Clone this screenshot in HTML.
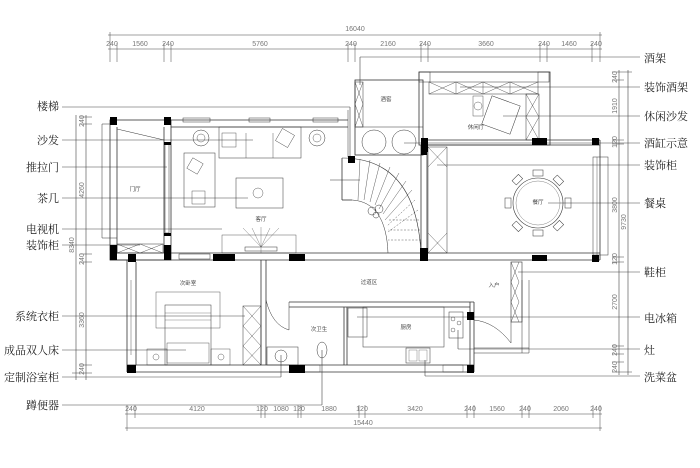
<!DOCTYPE html>
<html><head><meta charset="utf-8"><style>
html,body{margin:0;padding:0;background:#fff;}
svg{display:block;}
.l{font-family:"Liberation Serif","Noto Serif CJK SC",serif;font-size:11px;fill:#222;}
.d{font-family:"Liberation Sans",sans-serif;font-size:7px;fill:#777;}
.s{font-family:"Liberation Sans","Noto Sans CJK SC",sans-serif;font-size:5.5px;fill:#444;}
</style></head><body>
<svg width="700" height="468" viewBox="0 0 700 468" xmlns="http://www.w3.org/2000/svg">
<g stroke="#444" stroke-width="0.6" fill="none">
<line x1="108" y1="35" x2="602" y2="35"/>
<line x1="108" y1="49" x2="602" y2="49"/>
<g stroke-width="0.5">
<line x1="110" y1="32" x2="110" y2="62"/><line x1="117" y1="43" x2="117" y2="62"/>
<line x1="164" y1="43" x2="164" y2="62"/><line x1="171" y1="43" x2="171" y2="62"/>
<line x1="348" y1="43" x2="348" y2="62"/><line x1="355" y1="43" x2="355" y2="62"/>
<line x1="421" y1="43" x2="421" y2="62"/><line x1="428" y1="43" x2="428" y2="62"/>
<line x1="540" y1="43" x2="540" y2="62"/><line x1="547" y1="43" x2="547" y2="62"/>
<line x1="592" y1="43" x2="592" y2="62"/><line x1="600" y1="32" x2="600" y2="62"/>
</g>
<line x1="360" y1="57" x2="640" y2="57"/>
<line x1="360" y1="57" x2="360" y2="85"/>
<line x1="125" y1="414" x2="602" y2="414"/>
<line x1="125" y1="428" x2="602" y2="428"/>
<g stroke-width="0.5">
<line x1="127" y1="405" x2="127" y2="431"/><line x1="135" y1="405" x2="135" y2="418"/>
<line x1="261" y1="405" x2="261" y2="418"/><line x1="265" y1="405" x2="265" y2="418"/>
<line x1="298" y1="405" x2="298" y2="418"/><line x1="301" y1="405" x2="301" y2="418"/>
<line x1="359" y1="405" x2="359" y2="418"/><line x1="365" y1="405" x2="365" y2="418"/>
<line x1="467" y1="405" x2="467" y2="418"/><line x1="474" y1="405" x2="474" y2="418"/>
<line x1="522" y1="405" x2="522" y2="418"/><line x1="529" y1="405" x2="529" y2="418"/>
<line x1="593" y1="405" x2="593" y2="418"/><line x1="600" y1="405" x2="600" y2="431"/>
</g>
<line x1="86" y1="115" x2="86" y2="380"/>
<line x1="76" y1="115" x2="76" y2="380"/>
<g stroke-width="0.5">
<line x1="80" y1="117" x2="92" y2="117"/><line x1="80" y1="124" x2="92" y2="124"/>
<line x1="80" y1="254" x2="92" y2="254"/><line x1="80" y1="262" x2="92" y2="262"/>
<line x1="80" y1="365" x2="92" y2="365"/><line x1="72" y1="373" x2="92" y2="373"/>
</g>
<line x1="619" y1="70" x2="619" y2="375"/>
<line x1="628" y1="70" x2="628" y2="375"/>
<g stroke-width="0.5">
<line x1="612" y1="72" x2="632" y2="72"/><line x1="612" y1="80" x2="624" y2="80"/>
<line x1="612" y1="140" x2="624" y2="140"/><line x1="612" y1="144" x2="624" y2="144"/>
<line x1="612" y1="257" x2="624" y2="257"/><line x1="612" y1="262" x2="624" y2="262"/>
<line x1="612" y1="346" x2="624" y2="346"/><line x1="612" y1="354" x2="624" y2="354"/>
<line x1="612" y1="362" x2="624" y2="362"/><line x1="612" y1="372" x2="632" y2="372"/>
</g>
<line x1="62" y1="107" x2="350" y2="107"/><line x1="350" y1="107" x2="350" y2="157"/>
<line x1="62" y1="140" x2="253" y2="140"/>
<line x1="62" y1="167" x2="167" y2="167"/>
<line x1="62" y1="198" x2="248" y2="198"/>
<line x1="62" y1="229" x2="222" y2="229"/>
<line x1="62" y1="245" x2="140" y2="245"/>
<line x1="62" y1="316" x2="245" y2="316"/>
<line x1="62" y1="350" x2="186" y2="350"/>
<line x1="62" y1="377" x2="281" y2="377"/><line x1="281" y1="377" x2="281" y2="355"/>
<line x1="62" y1="405" x2="322" y2="405"/><line x1="322" y1="405" x2="322" y2="350"/>
<line x1="460" y1="87" x2="640" y2="87"/>
<line x1="503" y1="116" x2="640" y2="116"/>
<line x1="404" y1="143" x2="640" y2="143"/>
<line x1="437" y1="165" x2="640" y2="165"/>
<line x1="548" y1="203" x2="640" y2="203"/>
<line x1="518" y1="272" x2="640" y2="272"/>
<line x1="357" y1="317" x2="640" y2="317"/>
<line x1="458" y1="349" x2="640" y2="349"/><line x1="458" y1="349" x2="458" y2="330"/>
<line x1="425" y1="376" x2="640" y2="376"/><line x1="425" y1="376" x2="425" y2="360"/>
</g>
<g stroke="#333" stroke-width="0.8" fill="none">
<rect x="110" y="120" width="61" height="140"/>
<line x1="117" y1="127" x2="117" y2="253"/><line x1="164" y1="127" x2="164" y2="253"/>
<path d="M117 124 L102 124 L102 238 L117 238" stroke-width="0.5"/>
<line x1="117" y1="129" x2="164" y2="140" stroke-width="0.5"/>
<rect x="165" y="143" width="4" height="90" stroke-width="0.5"/>
<line x1="171" y1="120" x2="348" y2="120"/><line x1="171" y1="127" x2="348" y2="127"/>
<line x1="348" y1="110" x2="348" y2="157" stroke-width="0.5"/>
<rect x="183" y="118" width="27" height="4" stroke-width="0.5"/>
<rect x="249" y="118" width="21" height="4" stroke-width="0.5"/>
<rect x="313" y="118" width="25" height="4" stroke-width="0.5"/>
<line x1="110" y1="253" x2="600" y2="253"/><line x1="110" y1="260" x2="600" y2="260"/>
<rect x="179" y="254" width="31" height="5" stroke-width="0.5"/>
<line x1="127" y1="260" x2="127" y2="372"/><line x1="136" y1="262" x2="136" y2="365"/>
<line x1="127" y1="372" x2="474" y2="372"/><line x1="127" y1="365" x2="474" y2="365"/>
<line x1="131" y1="280" x2="131" y2="355" stroke-width="0.4"/>
<line x1="261" y1="260" x2="261" y2="365"/><line x1="266" y1="260" x2="266" y2="365"/>
<line x1="289" y1="302" x2="474" y2="302"/><line x1="289" y1="307" x2="470" y2="307"/>
<line x1="289" y1="302" x2="289" y2="330" stroke-width="0.5"/>
<path d="M266 300 Q272 325 289 330" stroke-width="0.5"/>
<line x1="344" y1="307" x2="344" y2="365"/><line x1="347" y1="307" x2="347" y2="365"/>
<line x1="470" y1="302" x2="470" y2="365"/><line x1="474" y1="302" x2="474" y2="372"/>
<rect x="300" y="365" width="20" height="7" stroke-width="0.4"/>
<rect x="443" y="365" width="20" height="7" stroke-width="0.4"/>
<rect x="511" y="262" width="11" height="60" stroke-width="0.6"/>
<path d="M511 262 L519 282 M519 262 L511 282 M511 282 L519 302 M519 282 L511 302 M511 302 L519 322 M519 302 L511 322" stroke-width="0.4"/>
<line x1="522" y1="280" x2="522" y2="353" stroke-width="0.5"/><line x1="529" y1="280" x2="529" y2="353" stroke-width="0.5"/>
<line x1="474" y1="348" x2="529" y2="348" stroke-width="0.5"/><line x1="474" y1="353" x2="529" y2="353" stroke-width="0.5"/>
<path d="M474 320 Q495 322 511 343 L511 322" stroke-width="0.5"/>
<rect x="355" y="80" width="68" height="75"/>
<rect x="355" y="82" width="8" height="45" stroke-width="0.5"/>
<path d="M355 82 L363 104 M363 82 L355 104 M355 104 L363 127 M363 104 L355 127" stroke-width="0.4"/>
<line x1="355" y1="127" x2="423" y2="127" stroke-width="0.5"/>
<circle cx="374" cy="142" r="12" stroke-width="0.5"/><circle cx="404" cy="142" r="12" stroke-width="0.5"/>
<rect x="419" y="72" width="131" height="73"/>
<rect x="419" y="72" width="11" height="10" stroke-width="0.5"/><rect x="538" y="72" width="11" height="10" stroke-width="0.5"/>
<rect x="429" y="82" width="109" height="12" stroke-width="0.5"/>
<path d="M429 82 L456 94 M456 82 L429 94 M456 82 L456 94 M456 82 L483 94 M483 82 L456 94 M483 82 L483 94 M483 82 L510 94 M510 82 L483 94 M510 82 L510 94 M510 82 L538 94 M538 82 L510 94" stroke-width="0.4"/>
<rect x="526" y="94" width="13" height="46" stroke-width="0.5"/>
<path d="M526 94 L539 117 M539 94 L526 117 M526 117 L539 140 M539 117 L526 140" stroke-width="0.4"/>
<rect x="486" y="100" width="30" height="30" transform="rotate(20 501 115)" stroke-width="0.5"/>
<rect x="473" y="96" width="10" height="20" stroke-width="0.4"/><circle cx="478" cy="106" r="4" stroke-width="0.4"/>
<line x1="428" y1="145" x2="600" y2="145"/><line x1="428" y1="140" x2="600" y2="140"/>
<line x1="600" y1="140" x2="600" y2="260"/>
<rect x="593" y="157" width="15" height="98" stroke-width="0.5"/>
<line x1="597" y1="157" x2="597" y2="255" stroke-width="0.4"/>
<rect x="428" y="147" width="19" height="106" stroke-width="0.5"/>
<path d="M428 147 L447 167 M447 147 L428 167 M428 233 L447 253 M447 233 L428 253" stroke-width="0.4"/>
<line x1="421" y1="145" x2="421" y2="253"/><line x1="427" y1="145" x2="427" y2="253"/>
<circle cx="538" cy="203" r="25" stroke-width="0.6"/>
<circle cx="538" cy="203" r="22" stroke-width="0.3"/>
<g stroke-width="0.5">
<rect x="533" y="170" width="10" height="6"/><rect x="533" y="230" width="10" height="6"/>
<rect x="505" y="198" width="6" height="10"/><rect x="565" y="198" width="6" height="10"/>
<rect x="513" y="177" width="9" height="6" transform="rotate(-45 517 180)"/>
<rect x="554" y="177" width="9" height="6" transform="rotate(45 558 180)"/>
<rect x="513" y="223" width="9" height="6" transform="rotate(45 517 226)"/>
<rect x="554" y="223" width="9" height="6" transform="rotate(-45 558 226)"/>
</g>
<path d="M342 158 Q416 158 421 253" stroke-width="0.6"/>
<path d="M352 200 Q386 202 388 253" stroke-width="0.5"/>
<line x1="342" y1="158" x2="342" y2="200"/><line x1="342" y1="200" x2="352" y2="200"/>
<g stroke-width="0.4">
<line x1="360" y1="159" x2="358" y2="200"/><line x1="370" y1="160" x2="364" y2="200"/>
<line x1="380" y1="163" x2="370" y2="202"/><line x1="390" y1="167" x2="375" y2="205"/>
<line x1="399" y1="173" x2="379" y2="209"/><line x1="406" y1="181" x2="383" y2="214"/>
<line x1="412" y1="190" x2="385" y2="220"/>
<line x1="415" y1="200" x2="387" y2="226" stroke-dasharray="2,1.5"/>
<line x1="418" y1="210" x2="388" y2="232" stroke-dasharray="2,1.5"/>
<line x1="419" y1="220" x2="388" y2="220" stroke-dasharray="2,1.5"/>
<line x1="420" y1="230" x2="388" y2="230" stroke-dasharray="2,1.5"/>
<line x1="421" y1="240" x2="388" y2="240" stroke-dasharray="2,1.5"/>
</g>
<line x1="330" y1="180" x2="360" y2="180" stroke-width="0.5"/>
<circle cx="372" cy="211" r="4" stroke-width="0.5"/><circle cx="379" cy="209" r="4" stroke-width="0.5"/><circle cx="376" cy="215" r="3" stroke-width="0.5"/>
<rect x="219" y="127" width="82" height="31" stroke-width="0.5"/>
<line x1="246" y1="133" x2="246" y2="158" stroke-width="0.4"/><line x1="273" y1="133" x2="273" y2="158" stroke-width="0.4"/>
<rect x="222" y="133" width="14" height="14" stroke-width="0.4"/>
<rect x="278" y="131" width="14" height="14" transform="rotate(30 285 138)" stroke-width="0.4"/>
<circle cx="201" cy="138" r="8" stroke-width="0.5"/><circle cx="201" cy="138" r="4" stroke-width="0.4"/>
<circle cx="317" cy="138" r="8" stroke-width="0.5"/><circle cx="317" cy="138" r="4" stroke-width="0.4"/>
<rect x="184" y="153" width="31" height="54" stroke-width="0.5"/>
<rect x="189" y="160" width="12" height="12" transform="rotate(30 195 166)" stroke-width="0.4"/>
<rect x="192" y="191" width="13" height="13" stroke-width="0.4"/>
<rect x="236" y="178" width="47" height="30" stroke-width="0.5"/>
<circle cx="258" cy="193" r="5" stroke-width="0.4"/>
<rect x="222" y="235" width="74" height="18" stroke-width="0.4"/>
<rect x="245" y="247" width="32" height="4" stroke-width="0.5"/>
<path d="M243 228 L261 247 L279 228 M261 227 L261 253 M252 228 L261 247 L270 228" stroke-width="0.3"/>
<rect x="117" y="244" width="46" height="9" stroke-width="0.5"/>
<path d="M117 244 L140 253 M140 244 L117 253 M140 244 L163 253 M163 244 L140 253" stroke-width="0.4"/>
<rect x="156" y="292" width="64" height="36" stroke-width="0.4"/>
<rect x="165" y="305" width="46" height="60" stroke-width="0.5"/>
<line x1="165" y1="313" x2="211" y2="313" stroke-width="0.3"/><line x1="165" y1="320" x2="211" y2="320" stroke-width="0.3"/>
<rect x="167" y="343" width="42" height="20" stroke-width="0.4"/>
<rect x="147" y="349" width="20" height="16" stroke-width="0.4"/><rect x="211" y="349" width="19" height="16" stroke-width="0.4"/>
<circle cx="156" cy="357" r="3" stroke-width="0.4"/><circle cx="221" cy="357" r="3" stroke-width="0.4"/>
<rect x="243" y="306" width="18" height="59" stroke-width="0.5"/>
<path d="M243 306 L261 326 M261 306 L243 326 M243 326 L261 346 M261 326 L243 346 M243 346 L261 365 M261 346 L243 365" stroke-width="0.4"/>
<rect x="267" y="347" width="31" height="18" stroke-width="0.5"/>
<circle cx="281" cy="356" r="6" stroke-width="0.5"/>
<ellipse cx="322" cy="350" rx="5" ry="8" stroke-width="0.5"/>
<rect x="363" y="307" width="81" height="40" stroke-width="0.5"/>
<rect x="348" y="308" width="19" height="29" stroke-width="0.5"/>
<rect x="449" y="312" width="14" height="26" stroke-width="0.5"/>
<circle cx="453" cy="319" r="2" stroke-width="0.4"/><circle cx="459" cy="323" r="2" stroke-width="0.4"/><circle cx="453" cy="330" r="2" stroke-width="0.4"/>
<rect x="406" y="348" width="24" height="15" stroke-width="0.5"/>
<rect x="409" y="350" width="8" height="11" stroke-width="0.3"/><rect x="419" y="350" width="8" height="11" stroke-width="0.3"/>
</g>
<g fill="#000">
<rect x="110" y="117" width="7" height="8"/><rect x="164" y="117" width="7" height="8"/>
<rect x="164" y="142" width="7" height="3"/><rect x="164" y="233" width="7" height="3"/>
<rect x="110" y="245" width="7" height="15"/><rect x="164" y="245" width="7" height="15"/>
<rect x="128" y="254" width="8" height="8"/>
<rect x="213" y="254" width="22" height="7"/><rect x="289" y="254" width="16" height="7"/>
<rect x="420" y="248" width="8" height="13"/><rect x="532" y="255" width="15" height="6"/><rect x="592" y="255" width="7" height="7"/>
<rect x="421" y="138" width="7" height="14"/><rect x="421" y="148" width="6" height="7"/>
<rect x="532" y="138" width="15" height="7"/><rect x="592" y="138" width="7" height="7"/>
<rect x="348" y="156" width="7" height="7"/>
<rect x="127" y="365" width="9" height="8"/><rect x="289" y="365" width="16" height="8"/><rect x="467" y="365" width="7" height="8"/>
<rect x="467" y="312" width="7" height="8"/>
</g>
<text class="s" x="135" y="191" text-anchor="middle">门厅</text>
<text class="s" x="261" y="221" text-anchor="middle">客厅</text>
<text class="s" x="386" y="101" text-anchor="middle">酒窖</text>
<text class="s" x="476" y="129" text-anchor="middle">休闲厅</text>
<text class="s" x="538" y="204" text-anchor="middle">餐厅</text>
<text class="s" x="188" y="285" text-anchor="middle">次卧室</text>
<text class="s" x="369" y="284" text-anchor="middle">过道区</text>
<text class="s" x="494" y="287" text-anchor="middle">入户</text>
<text class="s" x="319" y="331" text-anchor="middle">次卫生</text>
<text class="s" x="406" y="329" text-anchor="middle">厨房</text>
<g class="d" text-anchor="middle">
<text x="355" y="31">16040</text>
<text x="112" y="46">240</text><text x="140" y="46">1560</text><text x="168" y="46">240</text>
<text x="260" y="46">5760</text><text x="351" y="46">240</text><text x="388" y="46">2160</text>
<text x="425" y="46">240</text><text x="486" y="46">3660</text><text x="544" y="46">240</text>
<text x="569" y="46">1460</text><text x="596" y="46">240</text>
<text x="131" y="411">240</text><text x="197" y="411">4120</text><text x="262" y="411">120</text>
<text x="281" y="411">1080</text><text x="299" y="411">120</text><text x="329" y="411">1880</text>
<text x="362" y="411">120</text><text x="415" y="411">3420</text><text x="470" y="411">240</text>
<text x="497" y="411">1560</text><text x="525" y="411">240</text><text x="561" y="411">2060</text>
<text x="596" y="411">240</text>
<text x="363" y="425">15440</text>
<text transform="translate(84 121) rotate(-90)">240</text>
<text transform="translate(84 190) rotate(-90)">4260</text>
<text transform="translate(74 245) rotate(-90)">8340</text>
<text transform="translate(84 259) rotate(-90)">240</text>
<text transform="translate(84 320) rotate(-90)">3360</text>
<text transform="translate(84 369) rotate(-90)">240</text>
<text transform="translate(617 77) rotate(-90)">240</text>
<text transform="translate(617 106) rotate(-90)">1910</text>
<text transform="translate(617 142) rotate(-90)">120</text>
<text transform="translate(617 205) rotate(-90)">3800</text>
<text transform="translate(626 222) rotate(-90)">9730</text>
<text transform="translate(617 259) rotate(-90)">120</text>
<text transform="translate(617 302) rotate(-90)">2700</text>
<text transform="translate(617 350) rotate(-90)">240</text>
<text transform="translate(617 367) rotate(-90)">240</text>
</g>
<g class="l" text-anchor="end">
<text x="59" y="110">楼梯</text>
<text x="59" y="144">沙发</text>
<text x="59" y="171">推拉门</text>
<text x="59" y="202">茶几</text>
<text x="59" y="233">电视机</text>
<text x="59" y="249">装饰柜</text>
<text x="59" y="320">系统衣柜</text>
<text x="59" y="354">成品双人床</text>
<text x="59" y="381">定制浴室柜</text>
<text x="59" y="409">蹲便器</text>
</g>
<g class="l">
<text x="644" y="62">酒架</text>
<text x="644" y="91">装饰酒架</text>
<text x="644" y="120">休闲沙发</text>
<text x="644" y="147">酒缸示意</text>
<text x="644" y="169">装饰柜</text>
<text x="644" y="207">餐桌</text>
<text x="644" y="276">鞋柜</text>
<text x="644" y="322">电冰箱</text>
<text x="644" y="354">灶</text>
<text x="644" y="381">洗菜盆</text>
</g>
</svg>
</body></html>
